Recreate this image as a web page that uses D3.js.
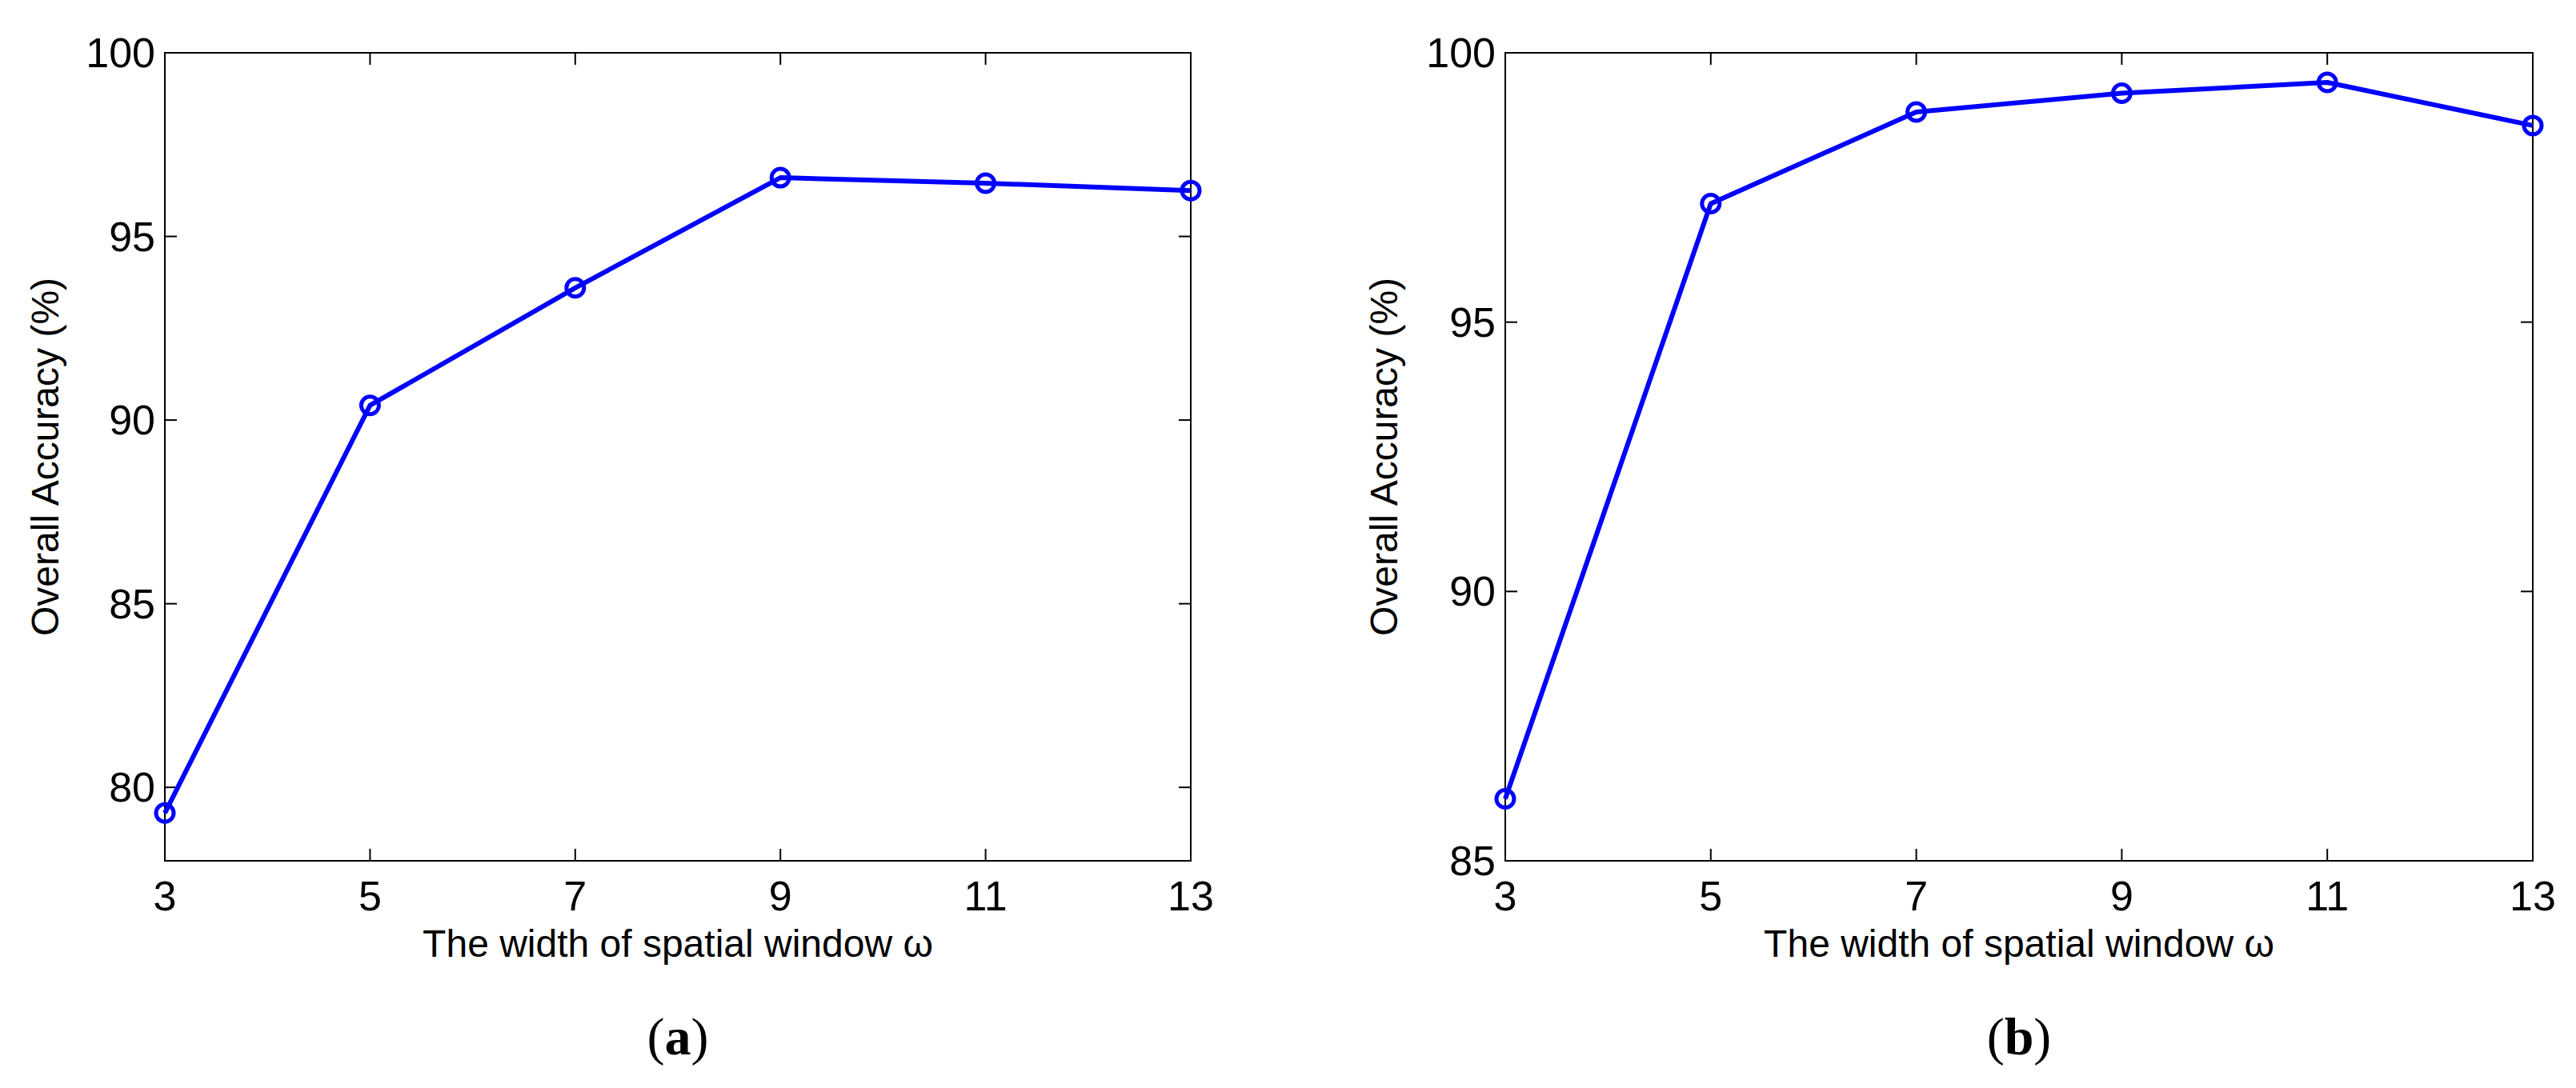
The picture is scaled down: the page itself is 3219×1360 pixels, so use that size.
<!DOCTYPE html>
<html><head><meta charset="utf-8">
<script src="https://cdn.jsdelivr.net/npm/d3@7"></script>
<style>body{margin:0;background:#fff}text{font-family:"Liberation Sans",Arial,sans-serif}</style>
</head><body>
<svg width="3219" height="1360"></svg>
<script>
const windows = [3, 5, 7, 9, 11, 13]
const accA = [79.3, 90.4, 93.6, 96.6, 96.45, 96.25]
const accB = [86.15, 97.2, 98.9, 99.25, 99.45, 98.65]
const ticksA = [80, 85, 90, 95, 100]
const ticksB = [85, 90, 95, 100]

const svg = d3.select('svg')

function panel(x0, x1, yMin, yTicks, vals, label, labX) {
  const top = 66, bottom = 1076
  const x = d3.scaleLinear().domain([3, 13]).range([x0, x1])
  const y = d3.scaleLinear().domain([yMin, 100]).range([bottom, top])
  const g = svg.append('g')
  const tl = 15
  // ticks inside, mirrored
  windows.forEach(w => {
    g.append('line').attr('x1', x(w)).attr('x2', x(w)).attr('y1', bottom).attr('y2', bottom - tl).attr('stroke', '#000').attr('stroke-width', 2)
    g.append('line').attr('x1', x(w)).attr('x2', x(w)).attr('y1', top).attr('y2', top + tl).attr('stroke', '#000').attr('stroke-width', 2)
    g.append('text').attr('x', x(w)).attr('y', 1138).attr('text-anchor', 'middle').attr('font-size', 52).text(w)
  })
  yTicks.forEach(t => {
    g.append('line').attr('x1', x0).attr('x2', x0 + tl).attr('y1', y(t)).attr('y2', y(t)).attr('stroke', '#000').attr('stroke-width', 2)
    g.append('line').attr('x1', x1).attr('x2', x1 - tl).attr('y1', y(t)).attr('y2', y(t)).attr('stroke', '#000').attr('stroke-width', 2)
    g.append('text').attr('x', x0 - 12).attr('y', y(t) + 18).attr('text-anchor', 'end').attr('font-size', 52).text(t)
  })
  g.append('rect').attr('x', x0).attr('y', top).attr('width', x1 - x0).attr('height', bottom - top)
    .attr('fill', 'none').attr('stroke', '#000').attr('stroke-width', 2)
  const line = d3.line().x((d, i) => x(windows[i])).y(d => y(d))
  g.append('path').attr('d', line(vals)).attr('fill', 'none').attr('stroke', '#0000ff').attr('stroke-width', 6).attr('stroke-linejoin', 'round')
  g.selectAll('circle.m').data(vals).join('circle')
    .attr('cx', (d, i) => x(windows[i])).attr('cy', d => y(d)).attr('r', 11)
    .attr('fill', 'none').attr('stroke', '#0000ff').attr('stroke-width', 5)
  g.append('text').attr('transform', `translate(${labX},${(top + bottom) / 2}) rotate(-90)`)
    .attr('text-anchor', 'middle').attr('dy', '0.35em').attr('font-size', 48).text('Overall Accuracy (%)')
  g.append('text').attr('x', (x0 + x1) / 2).attr('y', 1196).attr('text-anchor', 'middle').attr('font-size', 48)
    .text('The width of spatial window ω')
  const cap = g.append('text').attr('x', (x0 + x1) / 2).attr('y', 1318).attr('text-anchor', 'middle')
    .attr('font-size', 66).style('font-family', '"Liberation Serif","Times New Roman",serif')
  cap.append('tspan').text('(')
  cap.append('tspan').attr('font-weight', 'bold').text(label)
  cap.append('tspan').text(')')
}

panel(206, 1488, 78, ticksA, accA, 'a', 56)
panel(1881, 3165, 85, ticksB, accB, 'b', 1729)
</script>
</body></html>
